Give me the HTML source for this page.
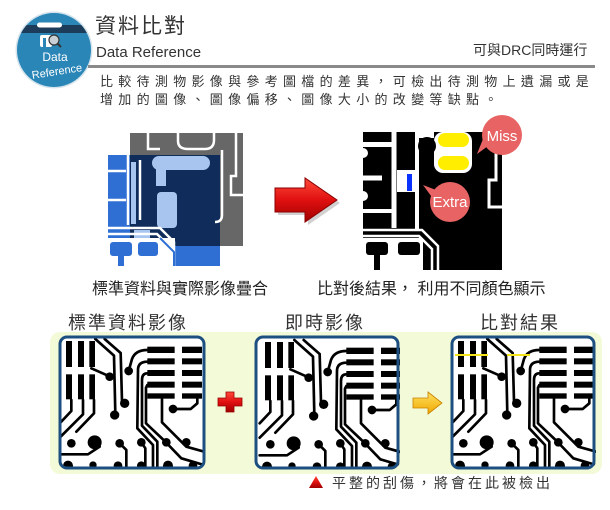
<!DOCTYPE html>
<html><head><meta charset="utf-8">
<style>
body{margin:0;width:610px;height:510px;background:#fff;position:relative;overflow:hidden;font-family:"Liberation Sans","Noto Sans CJK TC",sans-serif;}
.t{position:absolute;white-space:nowrap;color:#333;}
svg{position:absolute;left:0;top:0}
</style></head>
<body>
<svg width="610" height="510" viewBox="0 0 610 510" xmlns="http://www.w3.org/2000/svg">
<defs>
  <clipPath id="lc"><circle cx="54" cy="50" r="37"/></clipPath>
  <linearGradient id="rg" x1="0" y1="0" x2="0" y2="1">
    <stop offset="0" stop-color="#ff4a3a"/><stop offset="0.5" stop-color="#e01010"/><stop offset="1" stop-color="#a00000"/>
  </linearGradient>
  <linearGradient id="yg" x1="0" y1="0" x2="0" y2="1">
    <stop offset="0" stop-color="#ffe060"/><stop offset="1" stop-color="#f0a800"/>
  </linearGradient>
  <clipPath id="fc"><rect x="0" y="0" width="144" height="131" rx="7"/></clipPath>
  <g id="pcb">
    <g fill="#000">
      <rect x="24" y="18" width="18" height="78"/>
      <rect x="60" y="18" width="18" height="78"/>
      <rect x="94" y="18" width="17" height="78"/>
      <rect x="24" y="118" width="18" height="75"/>
      <rect x="60" y="118" width="18" height="75"/>
      <rect x="94" y="118" width="17" height="75"/>
      <rect x="268" y="35" width="82" height="19"/>
      <rect x="268" y="70" width="82" height="18"/>
      <rect x="268" y="105" width="82" height="18"/>
      <rect x="268" y="140" width="82" height="18"/>
      <rect x="268" y="175" width="82" height="16"/>
      <rect x="372" y="35" width="60" height="19"/>
      <rect x="372" y="70" width="60" height="18"/>
      <rect x="372" y="105" width="60" height="18"/>
      <rect x="372" y="140" width="60" height="18"/>
      <rect x="372" y="175" width="60" height="16"/>
      <circle cx="155" cy="125" r="13"/>
      <circle cx="212" cy="108" r="13"/>
      <circle cx="200" cy="205" r="14"/>
      <circle cx="170" cy="240" r="14"/>
      <circle cx="345" cy="222" r="13"/>
      <circle cx="40" cy="325" r="13"/>
      <circle cx="110" cy="322" r="21"/>
      <circle cx="185" cy="325" r="13"/>
      <circle cx="250" cy="322" r="13"/>
      <circle cx="325" cy="322" r="13"/>
      <circle cx="385" cy="322" r="13"/>
      <circle cx="30" cy="392" r="15"/>
      <circle cx="105" cy="390" r="11"/>
      <circle cx="180" cy="392" r="13"/>
      <circle cx="250" cy="392" r="13"/>
      <circle cx="330" cy="392" r="15"/>
      <circle cx="405" cy="392" r="13"/>
    </g>
    <g fill="none" stroke="#000" stroke-width="8" stroke-linecap="round" stroke-linejoin="round">
      <path d="M112 12 L168 62 L172 235"/>
      <path d="M140 12 L188 54 L192 198"/>
      <path d="M100 100 L150 122"/>
      <path d="M212 108 L222 72 Q232 45 268 45"/>
      <path d="M268 80 Q240 80 240 105 L238 280 L285 330 L285 405"/>
      <path d="M268 115 Q252 115 252 135 L252 272 L298 320 L298 405"/>
      <path d="M268 150 L264 158 L264 265 L320 318 L370 370 L445 392"/>
      <path d="M312 192 L312 262 L385 335 L445 352"/>
      <path d="M345 222 L398 222 L418 205 L418 192"/>
      <path d="M40 195 L40 228 L8 262"/>
      <path d="M75 195 L75 238 L8 305"/>
      <path d="M108 195 L108 235 L55 290"/>
      <path d="M8 358 L90 358 L125 335"/>
      <path d="M185 325 L205 345 L205 405"/>
      <path d="M250 322 L262 340 L262 405"/>
    </g>
  </g>
</defs>

<!-- Logo -->
<circle cx="54" cy="50" r="38.5" fill="#d5e4ec"/>
<circle cx="54" cy="50" r="37" fill="#2a86b7"/>
<rect x="10" y="25" width="90" height="8" fill="#1c3c5a" clip-path="url(#lc)"/>
<rect x="37" y="22.5" width="25" height="5" rx="2.5" fill="#fff"/>
<rect x="40" y="35" width="12" height="12" rx="2" fill="#fff"/>
<rect x="43" y="38" width="3" height="9" fill="#2a86b7"/>
<circle cx="54" cy="40" r="5" fill="#c8d0d6" stroke="#333" stroke-width="1.2"/>
<line x1="57.5" y1="43.5" x2="61" y2="47" stroke="#333" stroke-width="2"/>
<text x="55" y="61" font-family="Liberation Sans, sans-serif" font-size="12" fill="#fff" text-anchor="middle">Data</text>
<text x="57" y="75" font-family="Liberation Sans, sans-serif" font-size="11" fill="#fff" text-anchor="middle" transform="rotate(-9 57 72)">Reference</text>

<!-- header line -->
<rect x="88" y="65" width="507" height="3" fill="#8a8a8a"/>

<!-- Overlay image -->
<rect x="130" y="133" width="113" height="113" fill="#676767"/>
<rect x="108" y="155" width="112" height="111" fill="#2f6fd3"/>
<rect x="130" y="155" width="90" height="91" fill="#0f2c5a"/>
<g fill="#a7c5ee">
  <rect x="152" y="156" width="58" height="14" rx="7"/>
  <rect x="156" y="160" width="10" height="26"/>
  <rect x="157" y="192" width="20" height="36" rx="4"/>
  <rect x="131" y="162" width="5" height="62"/>
  <rect x="134" y="230" width="16" height="11"/>
</g>
<g fill="none" stroke="#fff" stroke-width="2.5">
  <path d="M148 133 V149 H160"/>
  <path d="M178 133 V141 Q178 149 188 149 H205 Q214 149 214 140 V133"/>
  <path d="M236 133 V176 H231 V195 H243"/>
  <path d="M222 150 V215 Q222 222 215 222"/>
  <path d="M108 228 H160 L174 242 V266"/>
  <path d="M108 234 H157 L168 245 V266"/>
  <path d="M108 171 H126"/>
  <path d="M108 200 H126"/>
  <path d="M128 155 V225"/>
  <path d="M140 160 V220"/>
</g>
<rect x="108" y="238" width="67" height="28" fill="#fff"/>
<g fill="#2f6fd3">
  <rect x="110" y="242" width="22" height="14" rx="3"/>
  <rect x="118" y="256" width="6" height="10"/>
  <rect x="138" y="242" width="20" height="14" rx="3"/>
</g>
<path d="M160 238 L174 252 V266" fill="none" stroke="#2f6fd3" stroke-width="2"/>

<!-- Red arrow -->
<polygon points="278,191 308,191 308,181 340,203 308,225 308,215 278,215" fill="#000" opacity="0.18"/>
<polygon points="275,188 305,188 305,178 337,200 305,222 305,212 275,212" fill="url(#rg)" stroke="#8a0000" stroke-width="1"/>

<!-- Result image -->
<rect x="363" y="132" width="139" height="138" fill="#000"/>
<g fill="none" stroke="#fff">
  <path d="M394 132 V228" stroke-width="5"/>
  <path d="M417 132 V230" stroke-width="4"/>
  <path d="M363 144.5 H392" stroke-width="5"/>
  <path d="M363 178 H382" stroke-width="5"/>
  <path d="M363 211 H392" stroke-width="4"/>
  <path d="M496 132 V180 H489 V207 H502" stroke-width="3"/>
  <path d="M363 230 H422 L438 246 V270" stroke-width="2.5"/>
  <path d="M363 236 H419 L432 249 V270" stroke-width="2.5"/>
</g>
<circle cx="363" cy="153" r="5" fill="#fff"/>
<circle cx="363" cy="196" r="5" fill="#fff"/>
<rect x="397" y="170" width="20" height="22" fill="#fff"/>
<rect x="407" y="174" width="5" height="17" fill="#0a32ff"/>
<rect x="419" y="132" width="15" height="6" fill="#fff"/>
<rect x="434" y="132" width="38" height="41" rx="9" fill="#fff"/>
<circle cx="427" cy="146" r="9" fill="#000"/>
<rect x="438" y="133" width="31" height="14" rx="7" fill="#ffee00"/>
<rect x="438" y="156" width="31" height="14" rx="7" fill="#ffee00"/>
<rect x="363" y="238" width="60" height="32" fill="#fff"/>
<g fill="#000">
  <rect x="366" y="242" width="22" height="13" rx="3"/>
  <rect x="374" y="255" width="6" height="15"/>
  <rect x="398" y="242" width="22" height="13" rx="3"/>
</g>
<!-- bubbles -->
<polygon points="488,146 477,154 483,139" fill="#e86464"/>
<circle cx="502" cy="135" r="20" fill="#e86464"/>
<text x="502" y="141" font-family="Liberation Sans, sans-serif" font-size="15" fill="#fff" text-anchor="middle">Miss</text>
<polygon points="436,190 423,185 434,200" fill="#e86464"/>
<circle cx="450" cy="202" r="20" fill="#e86464"/>
<text x="450" y="207" font-family="Liberation Sans, sans-serif" font-size="15" fill="#fff" text-anchor="middle">Extra</text>

<!-- Bottom panel -->
<rect x="50" y="332" width="552" height="142" rx="10" fill="#f3fad8"/>

<!-- PCB images -->
<g transform="translate(60,337)">
  <rect x="0" y="0" width="144" height="131" rx="7" fill="#fff"/>
  <g clip-path="url(#fc)"><use href="#pcb" transform="translate(-2,-2) scale(0.3333)"/></g>
  <rect x="0" y="0" width="144" height="131" rx="7" fill="none" stroke="#1d4f80" stroke-width="3"/>
</g>
<g transform="translate(256,337)">
  <rect x="0" y="0" width="142" height="131" rx="7" fill="#fff"/>
  <g clip-path="url(#fc)"><use href="#pcb" transform="translate(1,-1) scale(0.3333)"/></g>
  <rect x="0" y="0" width="142" height="131" rx="7" fill="none" stroke="#1d4f80" stroke-width="3"/>
</g>
<g transform="translate(452,337)">
  <rect x="0" y="0" width="142" height="131" rx="7" fill="#fff"/>
  <g clip-path="url(#fc)">
    <use href="#pcb" transform="translate(-2,-2) scale(0.3333)"/>
    <line x1="3" y1="18" x2="36" y2="18" stroke="#f2e41a" stroke-width="2"/>
    <line x1="55" y1="18" x2="78" y2="18" stroke="#f2e41a" stroke-width="2"/>
  </g>
  <rect x="0" y="0" width="142" height="131" rx="7" fill="none" stroke="#1d4f80" stroke-width="3"/>
</g>

<!-- red cross -->
<path d="M226 392 H234 V398 H242 V406 H234 V412 H226 V406 H218 V398 H226 Z" fill="url(#rg)" stroke="#900" stroke-width="0.8"/>
<!-- yellow arrow -->
<polygon points="413,398 428,398 428,392 442,403 428,414 428,408 413,408" fill="url(#yg)" stroke="#c88000" stroke-width="0.8"/>
<!-- triangle -->
<polygon points="316,476 323,488 309,488" fill="url(#rg)"/>
</svg>

<div class="t" style="left:95px;top:16px;font-size:21px;line-height:21px;letter-spacing:2px;">資料比對</div>
<div class="t" style="left:96px;top:45px;font-size:15px;line-height:15px;">Data Reference</div>
<div class="t" style="left:473px;top:43px;font-size:14px;line-height:14px;">可與DRC同時運行</div>
<div class="t" style="left:100px;top:73px;font-size:13px;line-height:18px;letter-spacing:5.3px;">比較待測物影像與參考圖檔的差異，可檢出待測物上遺漏或是<br>增加的圖像、圖像偏移、圖像大小的改變等缺點。</div>
<div class="t" style="left:92px;top:282px;font-size:16px;line-height:16px;color:#222;">標準資料與實際影像疊合</div>
<div class="t" style="left:317px;top:282px;font-size:16px;line-height:16px;color:#222;">比對後結果， 利用不同顏色顯示</div>
<div class="t" style="left:68px;top:314px;font-size:18px;line-height:18px;letter-spacing:2px;">標準資料影像</div>
<div class="t" style="left:285px;top:314px;font-size:18px;line-height:18px;letter-spacing:2px;">即時影像</div>
<div class="t" style="left:480px;top:314px;font-size:18px;line-height:18px;letter-spacing:2px;">比對結果</div>
<div class="t" style="left:332px;top:476px;font-size:14px;line-height:14px;letter-spacing:3px;">平整的刮傷，將會在此被檢出</div>
</body></html>
